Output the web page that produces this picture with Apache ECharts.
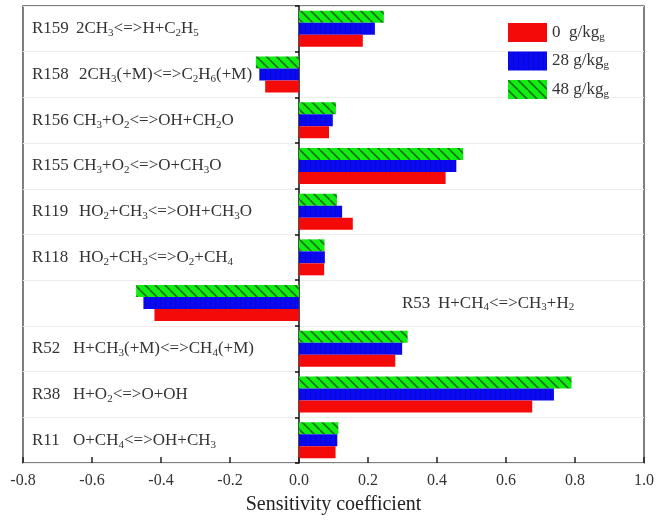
<!DOCTYPE html>
<html><head><meta charset="utf-8">
<script src="https://cdn.jsdelivr.net/npm/echarts@6/dist/echarts.min.js"></script>
<style>html,body{margin:0;padding:0;background:#fff}#c{width:657px;height:522px}</style>
</head><body><div id="c"></div>
<script>
// ---- data ----
const reactionIds = ['R11','R38','R52','R53','R118','R119','R155','R156','R158','R159'];
const reactionEqs = ['O+CH_4<=>OH+CH_3','H+O_2<=>O+OH','H+CH_3(+M)<=>CH_4(+M)','H+CH_4<=>CH_3+H_2',
  'HO_2+CH_3<=>O_2+CH_4','HO_2+CH_3<=>OH+CH_3O','CH_3+O_2<=>O+CH_3O','CH_3+O_2<=>OH+CH_2O',
  '2CH_3(+M)<=>C_2H_6(+M)','2CH_3<=>H+C_2H_5'];
const seriesNames = ['0  g/kg','28 g/kg','48 g/kg'];
const vals0  = [0.106,0.676,0.279,-0.419,0.073,0.156,0.425,0.087,-0.098,0.185];
const vals28 = [0.111,0.739,0.299,-0.451,0.075,0.125,0.456,0.098,-0.115,0.220];
const vals48 = [0.114,0.790,0.315,-0.472,0.074,0.110,0.476,0.107,-0.125,0.246];
const xMin = -0.8, xMax = 1.0, xStep = 0.2;
const xTitle = 'Sensitivity coefficient';

// ---- styling ----
const FONT = '"Liberation Serif","Times New Roman",serif';
function pattern(kind){
  const c = document.createElement('canvas');
  const ctx = c.getContext('2d');
  if(kind==='green'){
    c.width=10;c.height=10;
    ctx.fillStyle='#11ee11';ctx.fillRect(0,0,10,10);
    ctx.strokeStyle='#1d6e1d';ctx.lineWidth=1.6;
    for(let k=-1;k<=1;k++){ctx.beginPath();ctx.moveTo(0,k*10);ctx.lineTo(10,10+k*10);ctx.stroke();}
  } else if(kind==='blue'){
    c.width=5;c.height=4;
    ctx.fillStyle='#0a0af2';ctx.fillRect(0,0,5,4);
    ctx.fillStyle='rgba(0,0,110,0.25)';ctx.fillRect(0,0,1,4);
  }
  return {image:c, repeat:'repeat'};
}
const colors = ['#f50a0a', pattern('blue'), pattern('green')];
const idStyle = {R11:'a',R38:'a',R52:'a',R155:'a',R156:'a',R159:'b',R158:'c',R119:'c',R118:'c',R53:'d'};
function richEq(eq){
  return '{n|' + eq.replace(/_(\d)/g,'}{s|$1}{n|') + '}';
}
const baseText = {fontFamily:FONT,fontSize:17,color:'#333',lineHeight:20};
const subText = {fontFamily:FONT,fontSize:11,color:'#333',lineHeight:10,verticalAlign:'bottom'};

const chart = echarts.init(document.getElementById('c'));
const allVals = [vals0, vals28, vals48];
// draw order: top bar in each row is the last dataset, so series are added in reverse
const order = [2,1,0];
chart.setOption({
  backgroundColor:'#fff',
  animation:false,
  grid:{left:23,right:12,top:6,bottom:59,show:true,borderColor:'#555',borderWidth:1.5,backgroundColor:'transparent'},
  legend:{
    orient:'vertical',left:503,top:18,itemWidth:39,itemHeight:19,itemGap:9,
    icon:'rect',
    data:seriesNames,
    formatter:n=>'{n|'+n+'}{s|g}',
    textStyle:{fontFamily:FONT,fontSize:17,color:'#333',rich:{n:baseText,s:subText}}
  },
  xAxis:{
    type:'value',min:xMin,max:xMax,interval:xStep,
    axisLine:{onZero:false,lineStyle:{color:'#222',width:1.5}},
    axisTick:{show:true,inside:true,length:6,lineStyle:{color:'#222',width:1.5}},
    splitLine:{show:false},
    axisLabel:{fontFamily:FONT,fontSize:16,color:'#333',margin:10,formatter:v=>v.toFixed(1)},
    name:xTitle,nameLocation:'middle',nameGap:32,
    nameTextStyle:{fontFamily:FONT,fontSize:20,color:'#222'}
  },
  yAxis:[{
    type:'category',data:reactionIds,
    axisLine:{onZero:true,lineStyle:{color:'#111',width:1.5}},
    axisTick:{show:true,length:4,lineStyle:{color:'#111',width:1.5}},
    axisLabel:{show:false},
    splitLine:{show:false}
  },{
    type:'category',data:reactionIds,position:'left',
    axisLine:{show:false},axisTick:{show:false},
    splitLine:{show:true,lineStyle:{color:'#ececec',width:1}},
    axisLabel:{inside:true,margin:9,align:'left',
      formatter:(v,i)=>'{'+idStyle[v]+(idStyle[v]==='d'?'pad|}{dd|':'|')+v+'}'+richEq(reactionEqs[i]),
      rich:{
        n:baseText,s:subText,
        a:Object.assign({},baseText,{width:41}),
        b:Object.assign({},baseText,{width:44}),
        c:Object.assign({},baseText,{width:47}),
        dpad:Object.assign({},baseText,{width:370}),
        dd:Object.assign({},baseText,{width:36})
      }}
  }],
  series: order.map(k=>({
    name:seriesNames[k], type:'bar', yAxisIndex:0, data:allVals[k],
    barWidth:12, barGap:'0%',
    itemStyle:{color:colors[k]}
  }))
});
</script></body></html>
